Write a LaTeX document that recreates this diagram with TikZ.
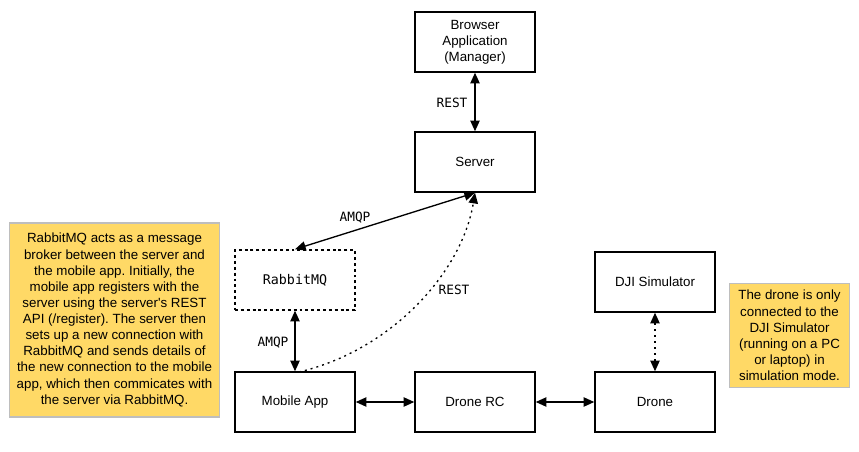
\documentclass[tikz,border=0pt]{standalone}
\usepackage{fontspec}
\setmainfont{Liberation Sans}
\newfontfamily\monof{DejaVu Sans Mono}
\usetikzlibrary{arrows.meta}
\frenchspacing
\definecolor{noteyellow}{RGB}{255,217,102}
\definecolor{notegray}{RGB}{190,190,190}
\tikzset{
  tip/.tip={Triangle[length=8pt,width=7pt]},
  box/.style={draw=black, line width=1.1pt, minimum width=90pt, minimum height=45pt, align=center, font=\fontsize{10}{12}\selectfont, inner sep=2pt},
  dotbox/.style={box, dash pattern=on 2.2pt off 2.2pt, font=\monof\fontsize{10}{12}\selectfont},
  note/.style={draw=notegray, fill=noteyellow, line width=0.8pt, align=center, font=\fontsize{10}{12.1}\selectfont, inner sep=2pt},
  conn/.style={line width=1pt, tip-tip},
  lbl/.style={font=\monof\fontsize{9.6}{11}\selectfont, inner sep=1pt},
}
\begin{document}
\begin{tikzpicture}[x=0.75pt,y=-0.75pt]
\useasboundingbox (0,0) rectangle (859,452);
\node[box] (browser) at (475,42) {Browser\\Application\\(Manager)};
\node[box] (server) at (475,162) {Server};
\node[dotbox] (rabbit) at (295,280) {RabbitMQ};
\node[box] (mobile) at (295,402) {Mobile App};
\node[box] (rc) at (475,402) {Drone RC};
\node[box] (drone) at (655,402) {Drone};
\node[box] (dji) at (655,282) {DJI Simulator};
\node[note, minimum width=158pt, minimum height=145.5pt] (note1) at (114.5,320) {RabbitMQ acts as a message\\broker between the server and\\the mobile app. Initially, the\\mobile app registers with the\\server using the server\textquotesingle s REST\\API (/register). The server then\\sets up a new connection with\\RabbitMQ and sends details of\\the new connection to the mobile\\app, which then commicates with\\the server via RabbitMQ.};
\node[note, minimum width=90pt, minimum height=78.5pt] (note2) at (789.5,335.5) {The drone is only\\connected to the\\DJI Simulator\\(running on a PC\\or laptop) in\\simulation mode.};

\draw[conn] (browser.south) -- (server.north);
\node[lbl] (lrest1) at (452,103) {REST};
\draw[conn] (server.south) -- (rabbit.north);
\node[lbl] (lamqp1) at (355,218) {AMQP};
\draw[conn] (rabbit.south) -- (mobile.north);
\node[lbl] (lamqp2) at (273,343) {AMQP};
\coordinate (cs) at (299,372);
\draw[line width=1pt, dash pattern=on 1.5pt off 3pt, -tip] (cs) .. controls (392,350) and (462,272) .. (server.south);
\node[lbl] (lrest2) at (454,290) {REST};
\draw[conn] (mobile.east) -- (rc.west);
\draw[conn] (rc.east) -- (drone.west);
\draw[conn, dash pattern=on 1.5pt off 3pt] (dji.south) -- (drone.north);
\end{tikzpicture}
\end{document}
